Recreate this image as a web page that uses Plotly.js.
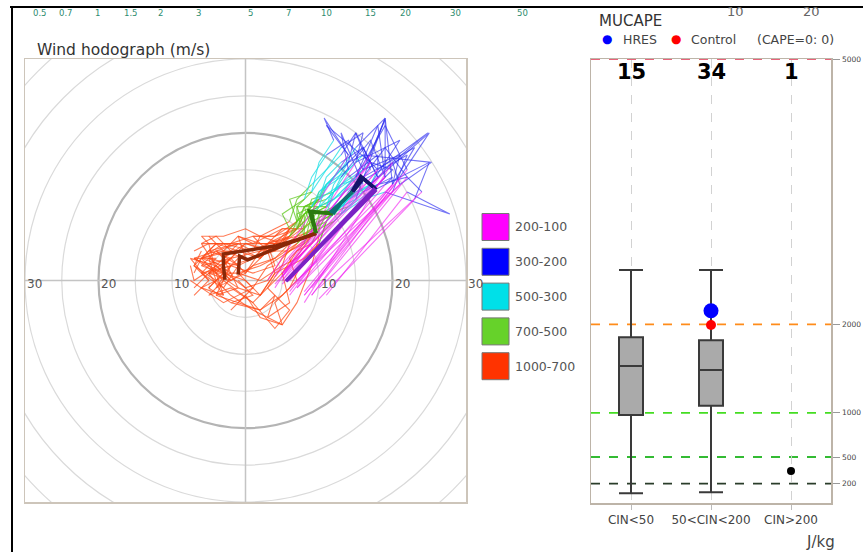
<!DOCTYPE html>
<html><head><meta charset="utf-8">
<script src="https://cdn.plot.ly/plotly-3.0.1.min.js"></script>
<style>html,body{margin:0;padding:0;background:#fff;} #chart{width:863px;height:552px;}</style>
</head><body><div id="chart"></div>
<script>
// ---------------- DATA ----------------
// pressure levels of each wind profile (hPa)
const levels = [1000,950,925,900,850,800,750,700,600,500,400,300,250,200,100];
// layer definitions (index range into levels)
const layerNames = ['1000-700','700-500','500-300','300-200','200-100'];
const layerStart = [0,7,9,11,13];
const layerEnd   = [7,9,11,13,14];

// ensemble members: u and v (m/s) at each level
const memberU = [
  [-7,-6,-3,-1,2,4,6,8, 7,9, 11,13, 16,18, 5],
  [-6,-7,-4,-5,-1,3,5,7, 8,10, 12,14, 11,17, 4],
  [-5,-3,-6,-2,0,2,6,9, 10,12, 14,16, 20,19, 7],
  [-3,-4,-2,-5,-1,3,5,8, 7,11, 12,15, 19,22, 8],
  [-7.5,-7,-4,-6,-2,1,4,7, 6,9, 10,12, 10.7,14, 3],
  [-2,0,2,5,4,6,8,10, 11,13, 15,17, 25,21, 9],
  [-4,-6,-3,0,-1,2,5,6, 5,8, 9,11, 14,16, 4],
  [-7,-5,-7.5,-4,-2,1,4,7, 9,11, 13,15, 19,20, 6],
  [-1,2,4,3,6,5,7,9, 10,12, 14,17, 25,23, 10],
  [-6,-3,-1,-4,0,2,4,6, 8,9, 12,14, 18,18, 5],
  [-5,-2,-6,-3,1,3,6,8, 9,10, 13,15, 19,17, 5],
  [-7,-5,-6,-3,0,2,4,6, 7,9, 11,13, 16,15, 4],
  [-3,-5,-2,1,3,5,7,10, 12,13, 16,19, 27.8,22, 11],
  [-4,-2,-5,-1,2,4,6,9, 8,11, 13,16, 19,19, 7],
  [-7,-4,-6,-2,1,4,7,10, 11,14, 17,18, 24.8,20, 8],
  [-2,-4,-1,2,4,3,6,8, 9,12, 13,15, 21,17, 5],
  [-7.5,-6,-3,-5,-2,2,5,9, 10,12, 15,17, 20,16, 6],
  [-5,-3,-1,1,3,5,7,8, 10,11, 14,16, 25.3,21, 7],
  [-6,-3,1,4,6,3,6,9, 9,11, 12,14, 15,18, 6],
  [-4,-1,-3,0,3,1,4,7, 8,10, 12,15, 22,20, 9],
  [-6,-4,-7,-3,-1,1,3,6, 7,9, 10,13, 17,19, 6],
  [-3,-1,-4,-2,1,4,3,7, 9,11, 12,14, 13,16, 4],
  [-7,-5,-2,-4,0,3,5,8, 8,10, 13,16, 23,20, 8],
  [-5,-7,-4,-1,-3,0,4,6, 8,10, 11,14, 16,18, 5],
  [-4,-1,1,-1,2,5,6,9, 10,12, 15,18, 22,24, 10],
  [-6,-4,-2,-6,-3,1,5,7, 8,10, 11,13, 16,17, 5],
  [-1,1,-2,2,5,7,6,9, 10,13, 14,16, 19,22, 9],
  [-7,-4,-5,-1,1,2,5,7, 7,9, 11,13, 15,17, 5],
  [-2,-5,-3,0,2,4,8,10, 11,12, 14,17, 20,21, 7],
  [-5,-2,-4,0,2,3,6,8, 9,11, 13,15, 18,19, 6],
  [-4,-2,1,3,5,7,9,10, 10,12, 14,16, 21,20, 8]
];
const memberV = [
  [1,3,2,4,3,5,5,6, 9,10, 13,15, 18,14, 0],
  [4,2,0,3,2,4,6,7, 10,11, 14,17, 21,16, 1],
  [-1,1,2,3,1,4,4,6, 8,9, 11,12, 14,13, -1],
  [-2,1,3,4,5,5,7,7, 10,10, 12,14, 21,15, -2],
  [2,0,2,5,5,6,6,8, 11,12, 16,19, 22,17, 0],
  [-4,-2,-5,-6,-3,-1,3,5, 8,10, 12,13, 20,14, -2],
  [5,3,4,3,6,5,5,7, 9,11, 14,17, 19,15, 0.5],
  [-2,0,3,2,0,2,3,5, 7,8, 10,11, 22,13, -1],
  [-3,-4,-2,-5,-3,1,4,5, 7,8, 10,12, 16,11, -2.5],
  [1,-1,2,4,4,3,5,6, 8,9, 12,14, 17,15, -0.5],
  [3,1,-1,-3,-1,2,4,5, 9,12, 15,18, 22,17, 0.5],
  [4,5,6,6,7,6,7,8, 11,13, 15,18, 20,16, -1],
  [0,-2,-1,-3,-1,2,3,6, 8,9, 11,12, 9,12, -2],
  [2,4,1,1,2,3,5,7, 10,11, 13,15, 21.8,15, -0.5],
  [3,3,1,2,3,4,6,7, 9,10, 13,15, 20,16, -3],
  [2,-2,-1,-2,1,4,6,8, 11,12, 14,16, 19,13, 1],
  [0,-1,-2,1,3,4,5,8, 10,11, 14,16, 15,11, -2],
  [6,4,6,5,6,7,7,9, 11,13, 15,17, 16,13, 0],
  [3,0,-3,-6.5,-4,-1,2,6, 9,10, 13,16, 20,14, -1.5],
  [1,-1,3,5,4,6,6,7, 9,10, 11,13, 17,12, -1],
  [2,4,3,1,3,3,5,6, 8,10, 12,14, 19,14, 0],
  [3,5,4,2,1,2,5,6, 8,9, 12,15, 20,13, -0.5],
  [-1,1,0,2,-1,0,3,6, 9,11, 13,14, 18,13, -1.5],
  [0,2,5,4,2,5,4,7, 9,10, 13,16, 17,15, 0.5],
  [-2,-3,-1,1,0,2,5,6, 8,9, 12,13, 14,12, -1],
  [5,6,4,3,5,4,6,8, 10,11, 14,16, 18,16, 0],
  [0,-2,-3,-4,-2,0,3,6, 9,9, 12,14, 18,14, -2],
  [3,1,5,5,4,6,5,7, 10,12, 15,17, 20,15, 1],
  [-3,-1,1,0,-2,1,3,5, 8,10, 11,13, 16,13, -1],
  [1,2,-1,1,3,5,5,7, 9,10, 12,14, 21,14, 0],
  [0,-2,-4,-5,-6,-3,2,6, 9,10, 13,15, 17,13, -2]
];
// HRES and Control profiles (thick lines)
const hresU = [-2.8,-3.0,-3.0,-1,1.5,4.2,7,9.6, 8.7,11.9, 13,14.4, 15.7,17.8, 5.5];
const hresV = [0.1,2.0,3.6,3.9,4.3,4.7,5.5,6.4, 9.4,9.0, 10.5,11.9, 14.1,12.3, -0.1];
const ctrlU = [-1.0,-0.8,0.3,2.5,4.5,6,8,9.6, 9.0,11.5, 13.2,14.6, 16.0,17.6, 5.6];
const ctrlV = [0.8,3.3,2.8,3.7,4.5,5.1,5.8,6.4, 9.2,9.2, 10.8,12.0, 13.8,12.5, 0.0];

const ringRadii = [5,10,15,20,25,30,35,40];
const ringLabelVals = [-30,-20,-10,10,20,30];
const topScaleLabels = ['0.5','0.7','1','1.5','2','3','5','7','10','15','20','30','50'];

// MUCAPE panel
const categories = ['CIN<50','50<CIN<200','CIN>200'];
const memberCounts = [15,34,1];
const boxCats = ['CIN<50','50<CIN<200'];
const boxLow = [90,101];
const boxQ1 = [975,1080];
const boxMed = [1529,1484];
const boxQ3 = [1853,1819];
const boxHigh = [2614,2614];
const singleCat = ['CIN>200'];
const singleVal = [342];
const hresCape = [2154];
const ctrlCape = [1992];
const hresCat = ['50<CIN<200'];
const thresholds = [5000,2000,1000,500,200];
const capeTicks = [200,500,1000,2000,5000];

// ---------------- STYLE ----------------
const W = 863, H = 552;
const px = x => x / W, py = y => 1 - y / H;
const FONT = 'DejaVu Sans, Liberation Sans, sans-serif';
const layerColors = ['rgba(255,72,20,0.72)','rgba(95,200,30,0.75)','rgba(25,222,228,0.75)','rgba(45,45,240,0.65)','rgba(240,20,240,0.6)'];
const thickColors = ['#8a2808','#2c7a10','#0d7272','#15156a','#7a22c4'];
const legendColors = ['#ff00ff','#0000ff','#00e0e8','#66d22a','#ff3300'];
const thresholdColors = ['#e8637a','#ff8c1a','#44dd22','#33bb33','#2a3d2a'];
const topScalePx = [40,66,97,131,160,198,250,288,326,370,405,455,522];

const traces = [];
// ensemble members, one trace per layer
for (let l = 0; l < layerNames.length; l++) {
  const xs = [], ys = [];
  for (let m = 0; m < memberU.length; m++) {
    for (let k = layerStart[l]; k <= layerEnd[l]; k++) { xs.push(memberU[m][k]); ys.push(memberV[m][k]); }
    xs.push(null); ys.push(null);
  }
  traces.push({type:'scatter', mode:'lines', x:xs, y:ys, xaxis:'x', yaxis:'y',
    line:{color:layerColors[l], width:1.1}, hoverinfo:'skip', showlegend:false, name:layerNames[l]});
}
// HRES / Control thick lines
[[hresU,hresV],[ctrlU,ctrlV]].forEach(p => {
  for (let l = 0; l < layerNames.length; l++) {
    traces.push({type:'scatter', mode:'lines',
      x:p[0].slice(layerStart[l], layerEnd[l]+1), y:p[1].slice(layerStart[l], layerEnd[l]+1),
      xaxis:'x', yaxis:'y', line:{color:thickColors[l], width:3.5}, hoverinfo:'skip', showlegend:false});
  }
});

// box plots
traces.push({type:'box', x:boxCats, q1:boxQ1, median:boxMed, q3:boxQ3, lowerfence:boxLow, upperfence:boxHigh,
  xaxis:'x2', yaxis:'y2', fillcolor:'#aaaaaa', line:{color:'#3a3a3a', width:2}, width:0.3, whiskerwidth:1,
  boxpoints:false, hoverinfo:'skip', showlegend:false});
traces.push({type:'scatter', mode:'markers', x:singleCat, y:singleVal, xaxis:'x2', yaxis:'y2',
  marker:{color:'#000', size:8}, showlegend:false, hoverinfo:'skip'});
traces.push({type:'scatter', mode:'markers', x:hresCat, y:hresCape, xaxis:'x2', yaxis:'y2',
  marker:{color:'#0000ff', size:15}, showlegend:false, hoverinfo:'skip'});
traces.push({type:'scatter', mode:'markers', x:hresCat, y:ctrlCape, xaxis:'x2', yaxis:'y2',
  marker:{color:'#ff0000', size:10}, showlegend:false, hoverinfo:'skip'});

const shapes = [];
// hodograph rings and cross
ringRadii.forEach(r => shapes.push({type:'circle', xref:'x', yref:'y', x0:-r, y0:-r, x1:r, y1:r, layer:'below',
  line:{color: r === 20 ? '#b4b4b4' : '#dadada', width: r === 20 ? 2.2 : 1.2}}));
shapes.push({type:'line', xref:'x', yref:'y', x0:-30, x1:30, y0:0, y1:0, layer:'below', line:{color:'#c4c4c4', width:1.5}});
shapes.push({type:'line', xref:'x', yref:'y', x0:0, x1:0, y0:-30, y1:30, layer:'below', line:{color:'#c4c4c4', width:1.5}});
// legend squares
layerNames.slice().reverse().forEach((n, i) => {
  const cy = 227 + i * 34.8;
  shapes.push({type:'rect', xref:'paper', yref:'paper', x0:px(482), x1:px(509), y0:py(cy+13.5), y1:py(cy-13.5),
    fillcolor:legendColors[i], line:{color:'#777', width:1}});
});
// threshold lines
thresholds.forEach((t, i) => shapes.push({type:'line', xref:'x2 domain', yref:'y2', x0:0, x1:1, y0:t, y1:t,
  layer: i === 0 ? 'above' : 'below', line:{color:thresholdColors[i], width:1.8, dash:'dash'}}));
// figure frame
shapes.push({type:'line', xref:'paper', yref:'paper', x0:px(10), x1:1, y0:py(7), y1:py(7), line:{color:'#000', width:2}});
shapes.push({type:'line', xref:'paper', yref:'paper', x0:px(12), x1:px(12), y0:py(7), y1:0, line:{color:'#000', width:2}});

const ann = [];
const A = (o) => ann.push(Object.assign({showarrow:false, font:{family:FONT, size:12, color:'#444'}}, o));
A({xref:'paper', yref:'paper', x:px(35), y:py(50), xanchor:'left', yanchor:'middle', text:'Wind hodograph (m/s)', font:{family:FONT, size:15.5, color:'#333'}});
ringLabelVals.forEach(v => A({xref:'x', yref:'y', x:v, y:0, xanchor:'left', yanchor:'middle', yshift:-3, text:String(Math.abs(v)), font:{family:FONT, size:12, color:'#555'}}));
topScaleLabels.forEach((t, i) => A({xref:'paper', yref:'paper', x:px(topScalePx[i]), y:py(13), xanchor:'center', yanchor:'middle', text:t, font:{family:FONT, size:8.5, color:'#2e8b6e'}}));
layerNames.slice().reverse().forEach((n, i) => A({xref:'paper', yref:'paper', x:px(513), y:py(227 + i*34.8), xanchor:'left', yanchor:'middle', text:n, font:{family:FONT, size:12.5, color:'#555'}}));
// right panel texts
A({xref:'paper', yref:'paper', x:px(597), y:py(21), xanchor:'left', yanchor:'middle', text:'MUCAPE', font:{family:FONT, size:15, color:'#333'}});
A({xref:'paper', yref:'paper', x:px(735), y:py(12), xanchor:'center', yanchor:'middle', text:'10', font:{family:FONT, size:13, color:'#666'}});
A({xref:'paper', yref:'paper', x:px(811), y:py(12), xanchor:'center', yanchor:'middle', text:'20', font:{family:FONT, size:13, color:'#666'}});
A({xref:'paper', yref:'paper', x:px(607), y:py(39), xanchor:'center', yanchor:'middle', text:'●', font:{family:FONT, size:12, color:'#0000ff'}});
A({xref:'paper', yref:'paper', x:px(621), y:py(40), xanchor:'left', yanchor:'middle', text:'HRES', font:{family:FONT, size:12.5, color:'#444'}});
A({xref:'paper', yref:'paper', x:px(676), y:py(39), xanchor:'center', yanchor:'middle', text:'●', font:{family:FONT, size:12, color:'#ff0000'}});
A({xref:'paper', yref:'paper', x:px(689), y:py(40), xanchor:'left', yanchor:'middle', text:'Control', font:{family:FONT, size:12.5, color:'#444'}});
A({xref:'paper', yref:'paper', x:px(755), y:py(40), xanchor:'left', yanchor:'middle', text:'(CAPE=0: 0)', font:{family:FONT, size:12.5, color:'#444'}});
categories.forEach((c, i) => A({xref:'x2', yref:'paper', x:c, y:py(72), xanchor:'center', yanchor:'middle', text:'<b>'+memberCounts[i]+'</b>', font:{family:FONT, size:21, color:'#000'}}));
A({xref:'paper', yref:'paper', x:px(820), y:py(542), xanchor:'center', yanchor:'middle', text:'J/kg', font:{family:FONT, size:15, color:'#444'}});

const frameColor = '#cdc5ba';
const layout = {
  width:W, height:H, margin:{l:0,r:0,t:0,b:0}, paper_bgcolor:'#fff', plot_bgcolor:'#fff',
  showlegend:false, font:{family:FONT},
  xaxis:{domain:[px(25), px(466)], range:[-30,30], anchor:'y', showgrid:false, zeroline:false, showticklabels:false, ticks:'',
    showline:true, mirror:true, linecolor:frameColor, linewidth:1.5, fixedrange:true},
  yaxis:{domain:[py(502), py(59)], range:[-30,30], anchor:'x', showgrid:false, zeroline:false, showticklabels:false, ticks:'',
    showline:true, mirror:true, linecolor:frameColor, linewidth:1.5, fixedrange:true},
  xaxis2:{domain:[px(591), px(831)], anchor:'y2', type:'category', categoryorder:'array', categoryarray:categories, range:[-0.5,2.5],
    showgrid:true, gridcolor:'#d2d2d2', griddash:'dash', gridwidth:1, zeroline:false,
    showline:true, mirror:true, linecolor:'#bdb4a8', linewidth:1.5, ticks:'outside', ticklen:5, tickcolor:'#bbb',
    tickfont:{family:FONT, size:12, color:'#444'}, fixedrange:true},
  yaxis2:{domain:[py(503), py(59)], anchor:'x2', side:'right', range:[-20,5000], showgrid:false, zeroline:false,
    showline:true, mirror:true, linecolor:'#bdb4a8', linewidth:1.5, ticks:'outside', ticklen:7, tickcolor:'#999',
    ticklabelstandoff:1,
    tickvals:capeTicks, ticktext:capeTicks.map(String), tickfont:{family:FONT, size:7.5, color:'#444'}, fixedrange:true},
  shapes:shapes, annotations:ann
};
Plotly.newPlot('chart', traces, layout, {staticPlot:true, displayModeBar:false});
</script></body></html>
